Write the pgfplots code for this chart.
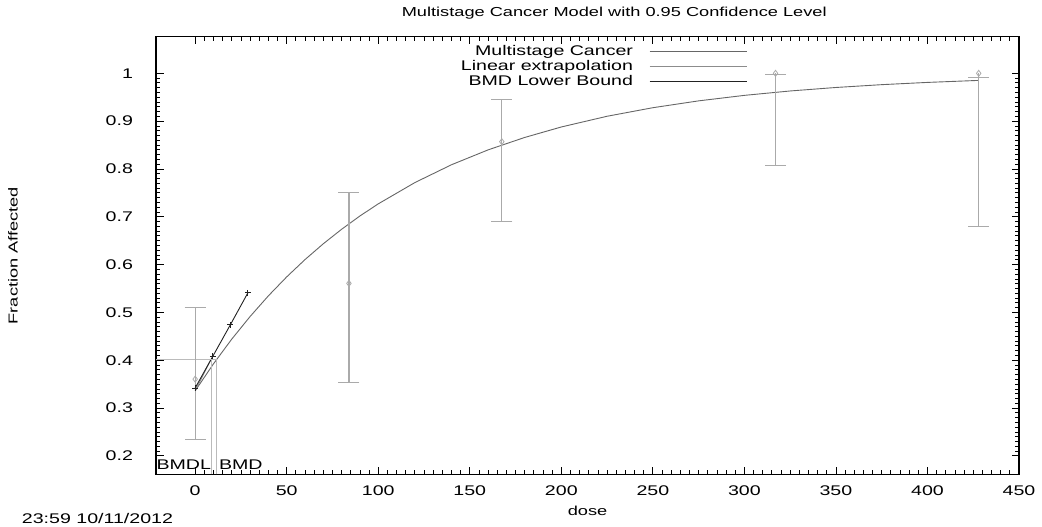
\documentclass[border=0pt]{standalone}
\usepackage{fontspec}
\setmainfont{Liberation Sans}
\usepackage{graphicx}
\usepackage{pgfplots}
\pgfplotsset{compat=1.18}
\definecolor{fitc}{HTML}{666666}
\definecolor{linc}{HTML}{8C8C8C}
\definecolor{lowc}{HTML}{222222}
\definecolor{barc}{HTML}{AAAAAA}
\definecolor{bmdc}{HTML}{BBBBBB}
\newcommand{\st}[1]{\scalebox{1.4}[1]{#1}}

\begin{document}
\begin{tikzpicture}[font=\fontsize{14}{16}\selectfont]
\begin{axis}[
  scale only axis, width=863pt, height=437.8pt,
  at={(156pt,52.5pt)}, anchor=south west,
  xmin=-21.4, xmax=450, ymin=0.161, ymax=1.0766,
  xtick={0,50,100,150,200,250,300,350,400,450},
  ytick={0.2,0.3,0.4,0.5,0.6,0.7,0.8,0.9,1},
  minor x tick num=9, minor y tick num=9,
  tick align=inside,
  major tick length=7.5pt, minor tick length=4pt,
  axis line style={line width=1.2pt},
  tick style={black, line width=0.8pt},
  xticklabel={\st{\pgfmathprintnumber[assume math mode=true]{\tick}}},
  yticklabel={\st{\pgfmathprintnumber[assume math mode=true]{\tick}}},
  xticklabel style={yshift=-8pt},
  yticklabel style={xshift=-19.5pt},
  title={\fontsize{13}{15}\selectfont\st{Multistage Cancer Model with 0.95 Confidence Level}},
  title style={at={(axis description cs:0.531,1.040)}, anchor=center},
  xlabel={\fontsize{13}{15}\selectfont\st{dose}},
  xlabel style={at={(axis description cs:0.5,-0.0834)}, anchor=center},
  ylabel={\fontsize{13}{15}\selectfont\st{Fraction Affected}},
  ylabel style={at={(axis description cs:-0.1657,0.5)}, anchor=center},
  legend style={draw=none, fill=none, at={(0.685,0.981)}, anchor=north east,
    inner sep=0pt, row sep=2.2pt, column sep=16pt,
    nodes={inner ysep=0.5pt, inner xsep=0pt}},
  legend cell align=right,
  legend plot pos=right,
  legend image code/.code={\draw[#1] (0pt,0pt) -- (97pt,0pt);},
]
% fitted multistage curve
\addplot[fitc, line width=0.9pt] coordinates {
  (0,0.336)(10,0.3925)(20,0.4442)(30,0.4914)(40,0.5347)(50,0.5743)
  (60,0.6105)(70,0.6436)(80,0.6739)(90,0.7017)(100,0.7270)(120,0.7715)
  (140,0.8088)(160,0.8399)(180,0.8659)(200,0.8878)(225,0.9102)(250,0.9281)
  (275,0.9424)(300,0.9539)(325,0.9631)(350,0.9704)(375,0.9763)(400,0.9810)
  (428,0.9852)
};
\addlegendentry{\st{Multistage Cancer}}

\addplot[linc, line width=0.9pt] coordinates {(0,0.336)(8.74,0.4023)};
\addlegendentry{\st{Linear extrapolation}}

\addplot[lowc, line width=0.9pt, mark=+, mark size=3pt] coordinates {
  (0,0.342)(9.6,0.408)(19.2,0.474)(28.8,0.541)
};
\addlegendentry{\st{BMD Lower Bound}}

% BMR / BMD / BMDL guide lines
\addplot[bmdc, line width=1.2pt, forget plot] coordinates {(-21.4,0.4023)(11.85,0.4023)};
\addplot[bmdc, line width=1.2pt, forget plot] coordinates {(8.74,0.161)(8.74,0.4023)};
\addplot[bmdc, line width=1.2pt, forget plot] coordinates {(11.85,0.161)(11.85,0.4023)};

% observed fractions with confidence limits
\addplot[only marks, forget plot, mark=diamond, mark size=3pt, mark options={barc, line width=0.8pt},
  error bars/.cd, y dir=both, y explicit,
  error bar style={barc, line width=1.2pt},
  error mark options={rotate=90, mark size=10.5pt, barc, line width=1.2pt}]
  coordinates {
  (0,0.3605) += (0,0.1491) -= (0,0.1255)
  (84,0.5607) += (0,0.1893) -= (0,0.2071)
  (167.5,0.857) += (0,0.0886) -= (0,0.1675)
  (317,1.0) += (0,-0.003) -= (0,0.192)
  (428,1.0) += (0,-0.008) -= (0,0.321)
};

\node[anchor=base east, inner sep=0pt] at (axis cs:8.74,0.172) {\st{BMDL}};
\node[anchor=base west, inner sep=0pt, xshift=2pt] at (axis cs:11.85,0.172) {\st{BMD}};
\end{axis}
\node[anchor=base west, inner sep=0pt] at (21.7pt,3pt) {\st{23:59 10/11/2012}};
\pgfresetboundingbox
\path[use as bounding box] (0,0) rectangle (1042pt,527pt);
\end{tikzpicture}
\end{document}
